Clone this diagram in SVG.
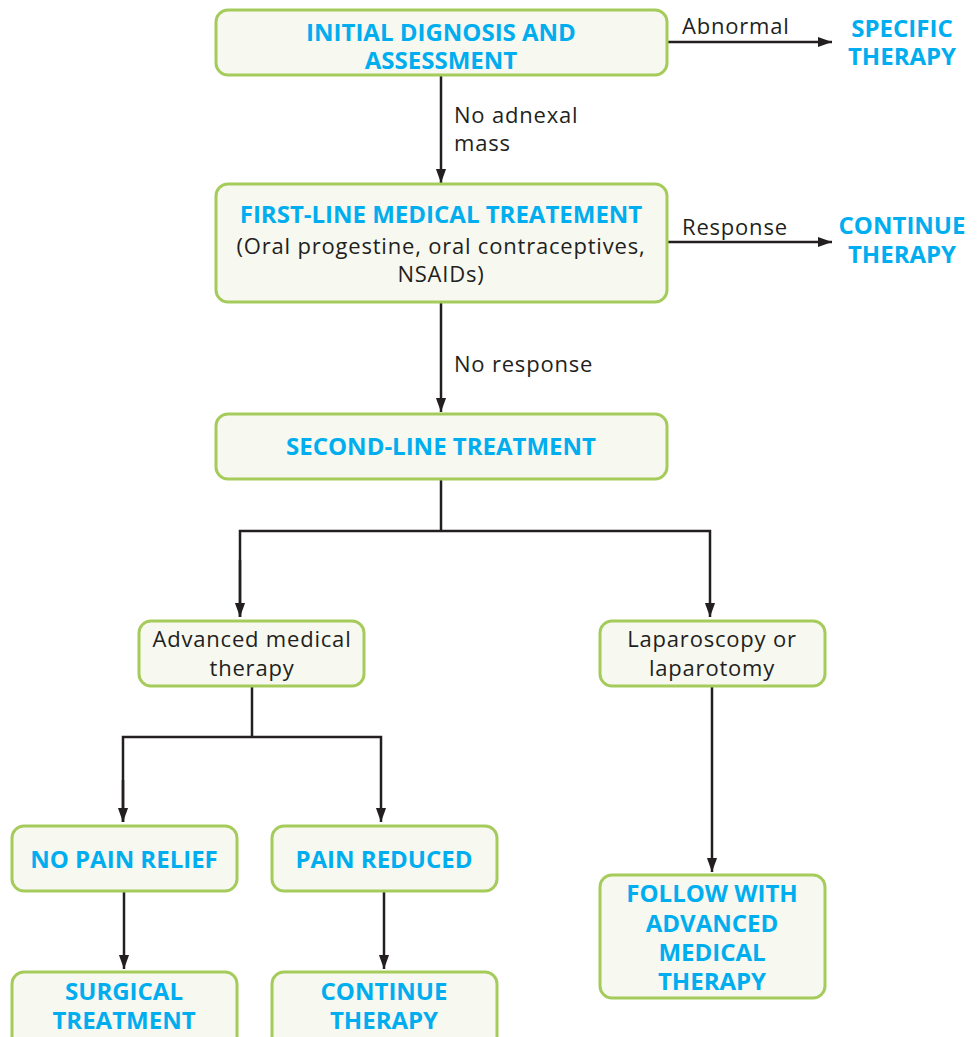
<svg xmlns="http://www.w3.org/2000/svg" width="978" height="1037" viewBox="0 0 978 1037">
<defs>
<style>
.box{fill:#f7f8f0;stroke:#a5cc5b;stroke-width:3}
.h{font-family:"Open Sans","Liberation Sans",sans-serif;font-weight:bold;font-size:24px;fill:#00aeef;text-anchor:middle}
.t{font-family:"Open Sans","Liberation Sans",sans-serif;font-size:22px;letter-spacing:0.8px;fill:#231f20}
.c{text-anchor:middle}
.ln{fill:none;stroke:#231f20;stroke-width:2.5}
</style>
<marker id="ah" markerUnits="userSpaceOnUse" markerWidth="14" markerHeight="19" refX="18" refY="6.5" viewBox="0 0 18 13" orient="auto" overflow="visible">
<path d="M0,0 L18,6.5 L0,13 z" fill="#231f20"/>
</marker>
</defs>
<rect width="978" height="1037" fill="#ffffff"/>
<g id="connectors">
<path class="ln" d="M667,42 H832" marker-end="url(#ah)"/>
<path class="ln" d="M441,76 V183" marker-end="url(#ah)"/>
<path class="ln" d="M667,242 H832" marker-end="url(#ah)"/>
<path class="ln" d="M441,303 V412" marker-end="url(#ah)"/>
<path class="ln" d="M441,480 V531"/>
<path class="ln" d="M240,617 V531 H710 V617" marker-end="url(#ah)"/>
<path class="ln" d="M240,560 V617" marker-end="url(#ah)"/>
<path class="ln" d="M252,687 V737"/>
<path class="ln" d="M123,822 V737 H381 V822" marker-end="url(#ah)"/>
<path class="ln" d="M123,780 V822" marker-end="url(#ah)"/>
<path class="ln" d="M124,892 V969" marker-end="url(#ah)"/>
<path class="ln" d="M384,892 V969" marker-end="url(#ah)"/>
<path class="ln" d="M712,687 V872" marker-end="url(#ah)"/>
<text class="t" x="682" y="34">Abnormal</text>
<text class="t" x="454" y="123">No adnexal</text>
<text class="t" x="454" y="151">mass</text>
<text class="t" x="682" y="235">Response</text>
<text class="t" x="454" y="372">No response</text>
</g>
<g id="n1">
<rect class="box" x="216" y="10" width="451" height="65" rx="12"/>
<text class="h" x="441" y="41">INITIAL DIGNOSIS AND</text>
<text class="h" x="441" y="69">ASSESSMENT</text>
</g>
<g id="n2">
<text class="h" x="902" y="37">SPECIFIC</text>
<text class="h" x="902" y="65">THERAPY</text>
</g>
<g id="n3">
<rect class="box" x="216" y="184" width="451" height="118" rx="12"/>
<text class="h" x="441" y="223">FIRST-LINE MEDICAL TREATEMENT</text>
<text class="t c" x="441" y="254">(Oral progestine, oral contraceptives,</text>
<text class="t c" x="441" y="282">NSAIDs)</text>
</g>
<g id="n4">
<text class="h" x="902" y="234">CONTINUE</text>
<text class="h" x="902" y="263">THERAPY</text>
</g>
<g id="n5">
<rect class="box" x="216" y="414" width="451" height="65" rx="12"/>
<text class="h" x="441" y="455">SECOND-LINE TREATMENT</text>
</g>
<g id="n6">
<rect class="box" x="139" y="621" width="225" height="65" rx="12"/>
<text class="t c" x="252" y="647">Advanced medical</text>
<text class="t c" x="252" y="676">therapy</text>
</g>
<g id="n7">
<rect class="box" x="600" y="621" width="225" height="65" rx="12"/>
<text class="t c" x="712" y="647">Laparoscopy or</text>
<text class="t c" x="712" y="676">laparotomy</text>
</g>
<g id="n8">
<rect class="box" x="12" y="826" width="225" height="65" rx="12"/>
<text class="h" x="124" y="868">NO PAIN RELIEF</text>
</g>
<g id="n9">
<rect class="box" x="272" y="826" width="225" height="65" rx="12"/>
<text class="h" x="384" y="868">PAIN REDUCED</text>
</g>
<g id="n10">
<rect class="box" x="12" y="972" width="225" height="80" rx="12"/>
<text class="h" x="124" y="1000">SURGICAL</text>
<text class="h" x="124" y="1029">TREATMENT</text>
</g>
<g id="n11">
<rect class="box" x="272" y="972" width="225" height="80" rx="12"/>
<text class="h" x="384" y="1000">CONTINUE</text>
<text class="h" x="384" y="1029">THERAPY</text>
</g>
<g id="n12">
<rect class="box" x="600" y="875" width="225" height="123" rx="12"/>
<text class="h" x="712" y="902">FOLLOW WITH</text>
<text class="h" x="712" y="932">ADVANCED</text>
<text class="h" x="712" y="961">MEDICAL</text>
<text class="h" x="712" y="990">THERAPY</text>
</g>
</svg>
